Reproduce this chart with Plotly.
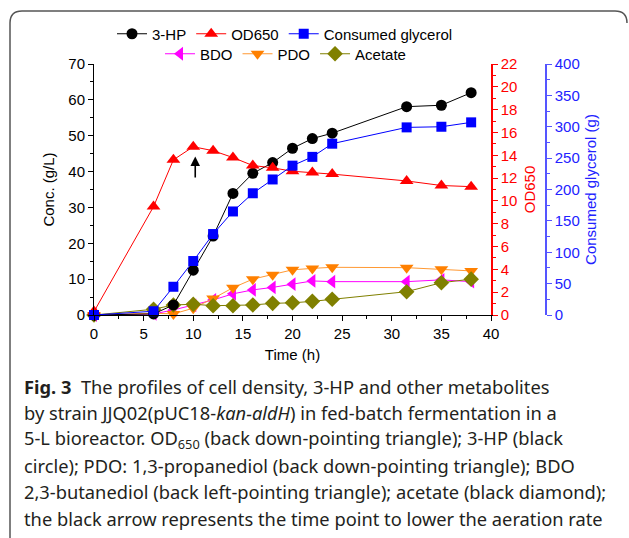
import plotly.graph_objects as go

# ---- data ----
time_h = [0, 6, 8, 10, 12, 14, 16, 18, 20, 22, 24, 31.5, 35, 38]
hp3 = [0, 0.3, 2.8, 12.5, 22.0, 33.9, 39.5, 42.5, 46.5, 49.2, 50.7, 58.1, 58.5, 62.0]
od650 = [0.3, 9.5, 13.6, 14.75, 14.4, 13.8, 13.1, 12.9, 12.6, 12.5, 12.35, 11.75, 11.35, 11.25]
glycerol = [0, 6, 45, 86, 129, 165, 194, 216, 238, 252, 273, 299, 300, 307]
bdo = [0, 0.3, 1.4, 2.7, 4.2, 5.9, 7.0, 7.7, 8.6, 9.5, 9.3, 9.3, 9.8, 9.3]
pdo = [0, 0.5, 0.3, 1.9, 4.6, 7.6, 10.0, 11.2, 12.6, 13.0, 13.3, 13.2, 12.75, 12.3]
acetate = [0, 1.6, 2.8, 3.0, 2.6, 2.6, 2.8, 3.25, 3.4, 3.8, 4.4, 6.5, 9.0, 10.0]
arrow_time = 10.2
arrow_head, arrow_tail = 44.2, 37.9

caption_lines = [
    "<b>Fig. 3</b>  The profiles of cell density, 3-HP and other metabolites",
    "by strain JJQ02(pUC18-<i>kan-aldH</i>) in fed-batch fermentation in a",
    "5-L bioreactor. OD<sub>650</sub> (back down-pointing triangle); 3-HP (black",
    "circle); PDO: 1,3-propanediol (back down-pointing triangle); BDO",
    "2,3-butanediol (back left-pointing triangle); acetate (black diamond);",
    "the black arrow represents the time point to lower the aeration rate",
]

W, H = 629, 538
L, R, T, B = 94, 83, 64, 223
PW, PH = W - L - R, H - T - B
def px(X): return (X - L) / PW
def py(Y): return (H - B - Y) / PH

FONT = "Liberation Sans, Arial, sans-serif"
fig = go.Figure()

def add(name, y, color, linecolor, symbol, size, yaxis="y", legend="legend"):
    fig.add_trace(go.Scatter(
        x=time_h, y=y, name=name, mode="lines+markers", yaxis=yaxis, legend=legend,
        line=dict(color=linecolor, width=1), cliponaxis=False,
        marker=dict(color=color, symbol=symbol, size=size, line=dict(width=0)),
    ))

add("BDO", bdo, "#FF00FF", "#FF00FF", "triangle-left", 12, legend="legend2")
add("PDO", pdo, "#FF8000", "#FF9933", "triangle-down", 12, legend="legend2")
add("Acetate", acetate, "#808000", "#808000", "diamond", 12, legend="legend2")
add("Consumed glycerol", glycerol, "#0000FF", "#0000FF", "square", 10, yaxis="y3")
add("OD650", od650, "#FF0000", "#FF0000", "triangle-up", 12, yaxis="y2")
add("3-HP", hp3, "#000000", "#000000", "circle", 11)

fig.update_layout(
    width=W, height=H, margin=dict(l=L, r=R, t=T, b=B),
    paper_bgcolor="white", plot_bgcolor="white",
    font=dict(family=FONT, size=15, color="black"),
    showlegend=True,
    legend=dict(orientation="h", x=px(112), y=py(34), xanchor="left", yanchor="middle",
                traceorder="reversed", font=dict(size=15), bgcolor="rgba(0,0,0,0)"),
    legend2=dict(orientation="h", x=px(160), y=py(54), xanchor="left", yanchor="middle",
                 traceorder="normal", font=dict(size=15), bgcolor="rgba(0,0,0,0)"),
    xaxis=dict(domain=[0, (491 - L) / PW], range=[0, 40], tick0=0, dtick=5,
               ticks="outside", ticklen=5, tickcolor="black", showline=True,
               linecolor="black", linewidth=1, showgrid=False, zeroline=False,
               minor=dict(dtick=2.5, ticks="outside", ticklen=3, tickcolor="black"),
               title=dict(text="Time (h)", font=dict(size=15), standoff=8)),
    yaxis=dict(range=[0, 70], dtick=10, ticks="outside", ticklen=5, tickcolor="black",
               showline=True, linecolor="black", linewidth=1, showgrid=False, zeroline=False,
               minor=dict(dtick=5, ticks="outside", ticklen=3, tickcolor="black"),
               title=dict(text="Conc. (g/L)", font=dict(size=15), standoff=10)),
    yaxis2=dict(overlaying="y", side="right", anchor="x", range=[0, 22], dtick=2,
                ticks="outside", ticklen=5, tickcolor="#FF0000", showline=True,
                linecolor="#FF0000", linewidth=1.5, showgrid=False, zeroline=False,
                tickfont=dict(color="#FF0000", size=15),
                minor=dict(dtick=1, ticks="outside", ticklen=3, tickcolor="#FF0000"),
                title=dict(text="OD650", font=dict(color="#FF0000", size=15), standoff=8)),
    yaxis3=dict(overlaying="y", side="right", anchor="free", position=1, range=[0, 400],
                dtick=50, ticks="outside", ticklen=5, tickcolor="#5555FF", showline=True,
                linecolor="#5555FF", linewidth=1.5, showgrid=False, zeroline=False,
                tickfont=dict(color="#2222FF", size=15),
                minor=dict(dtick=25, ticks="outside", ticklen=3, tickcolor="#5555FF"),
                title=dict(text="Consumed glycerol (g)", font=dict(color="#2222FF", size=15),
                           standoff=6)),
)

# arrow marking aeration change
fig.add_annotation(x=arrow_time, y=arrow_head, ax=arrow_time, ay=arrow_tail,
                   xref="x", yref="y", axref="x", ayref="y", text="", showarrow=True,
                   arrowhead=2, arrowsize=1.2, arrowwidth=1.6, arrowcolor="black")

# outer rounded frame
r = 12
x0, y0, x1, y1 = 10, 11, 627, 540
path = (f"M {px(x0)},{py(y1)} L {px(x0)},{py(y0 + r)} "
        f"Q {px(x0)},{py(y0)} {px(x0 + r)},{py(y0)} "
        f"L {px(x1 - r)},{py(y0)} Q {px(x1)},{py(y0)} {px(x1)},{py(y0 + r)}")
fig.add_shape(type="path", path=path, xref="paper", yref="paper",
              line=dict(color="#555555", width=1.5), layer="above")

# caption
cap_y = [386, 412, 439, 465, 491, 518]
for text, yy in zip(caption_lines, cap_y):
    fig.add_annotation(x=px(22), y=py(yy), xref="paper", yref="paper", text=text,
                       showarrow=False, xanchor="left", yanchor="middle", align="left",
                       font=dict(family="Noto Sans, Open Sans, sans-serif", size=18.3,
                                 color="#231F20"))

fig.write_html("out.html")
